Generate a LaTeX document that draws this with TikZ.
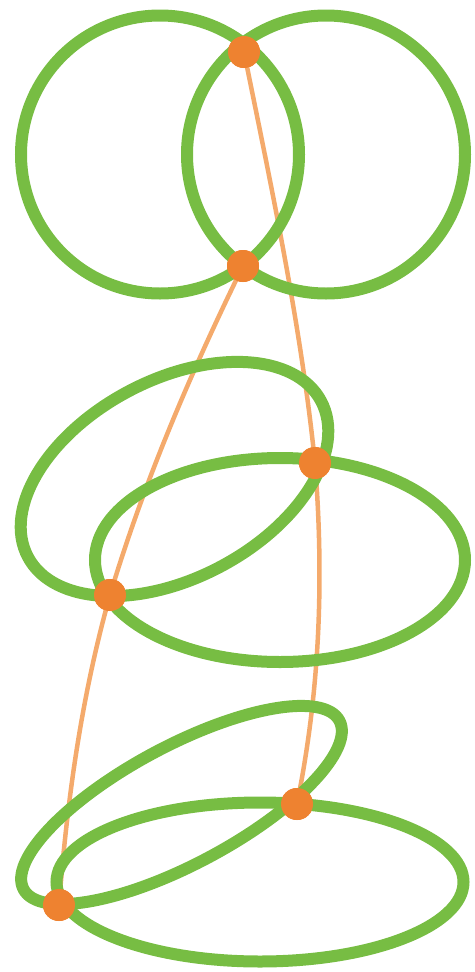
\documentclass[tikz,border=0pt]{standalone}
\definecolor{leaf}{HTML}{77BD43}
\definecolor{dotorange}{HTML}{EE8230}
\definecolor{linkorange}{HTML}{F4AA6C}
\begin{document}
\begin{tikzpicture}[x=1pt,y=-1pt,
  loop/.style={draw=leaf,line width=12pt},
  link/.style={draw=linkorange,line width=4.5pt},
  dot/.style={circle,fill=dotorange,minimum size=32pt,inner sep=0pt}]
\useasboundingbox (0,0) rectangle (474,972);
% dots (nodes)
\node[dot] (p1) at (244,52) {};
\node[dot] (p2) at (243,266) {};
\node[dot] (p3) at (315,463) {};
\node[dot] (p4) at (110,595) {};
\node[dot] (p5) at (297,804) {};
\node[dot] (p6) at (59,905) {};
% connectors (under loops)
\begin{scope}[on background layer/.style={}]
\draw[link] (p1.center) .. controls (272,190) and (301,326) .. (p3.center)
  .. controls (325,590) and (318,700) .. (p5.center);
\draw[link] (p2.center) .. controls (189,376) and (143,485) .. (p4.center)
  .. controls (81,698) and (67,802) .. (p6.center);
\end{scope}
% loops
\draw[loop] (160,154.5) circle[radius=139pt];
\draw[loop] (326,154.5) circle[radius=139pt];
\draw[loop] (280,560) ellipse[x radius=185pt,y radius=102pt];
\draw[loop,rotate around={28:(174.5,479)}] (174.5,479) ellipse[x radius=166pt,y radius=99pt];
\draw[loop] (260,882) ellipse[x radius=203.5pt,y radius=79.5pt];
\draw[loop,rotate around={28.1:(181.5,805)}] (181.5,805) ellipse[x radius=179pt,y radius=59pt];
% dots on top
\foreach \p in {p1,p2,p3,p4,p5,p6}
  \fill[dotorange] (\p) circle[radius=16pt];
\end{tikzpicture}
\end{document}
